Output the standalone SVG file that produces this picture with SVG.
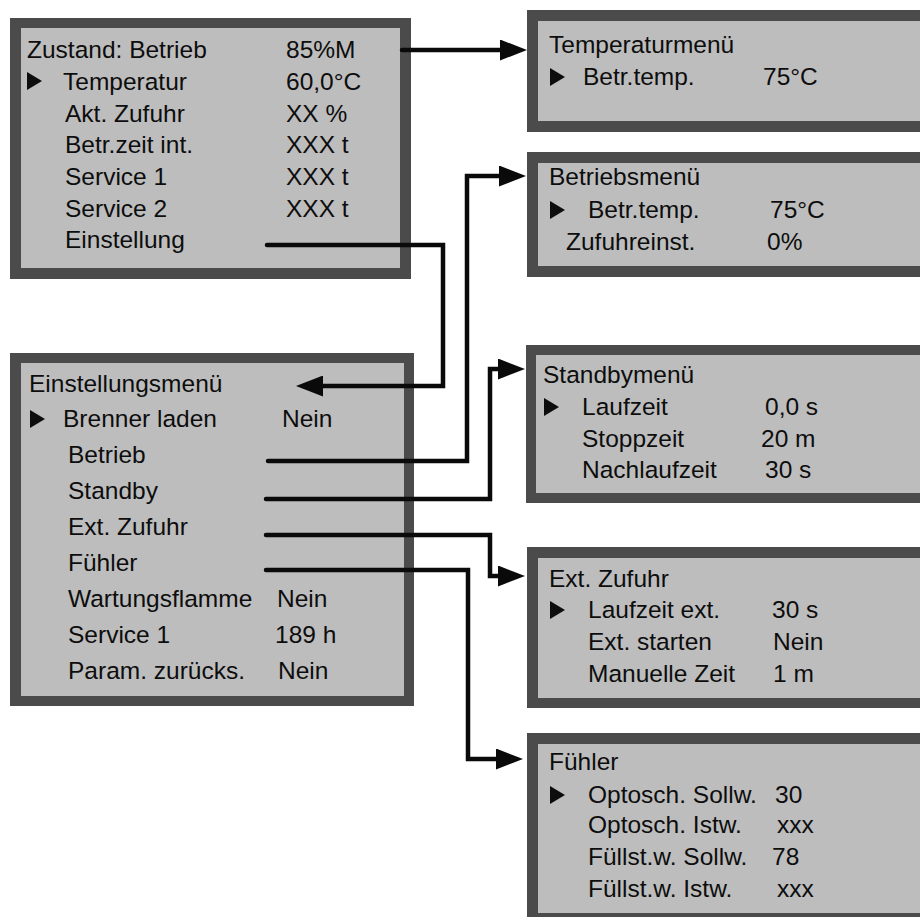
<svg xmlns="http://www.w3.org/2000/svg" width="920" height="917" viewBox="0 0 920 917">
<defs>
<style>
.frame{fill:#4b4b4b}
.panel{fill:#bdbdbd}
text{font-family:"Liberation Sans",Arial,sans-serif;font-size:24.5px;fill:#0d0d0d}
.conn{fill:none;stroke:#0a0a0a;stroke-width:4.5;stroke-linecap:round;stroke-linejoin:miter}
.cur{fill:#0d0d0d}
</style>
<marker id="ah" viewBox="0 0 27 21" refX="7" refY="10.5" markerWidth="27" markerHeight="21" markerUnits="userSpaceOnUse" orient="auto">
<polygon points="0,0 27,10.5 0,21" fill="#0a0a0a"/>
</marker>
<polygon id="tri" points="0,0 15,9 0,18" class="cur"/>
</defs>
<rect width="920" height="917" fill="#ffffff"/>

<g id="zustand">
<rect class="frame" x="10" y="18" width="401" height="261"/>
<rect class="panel" x="21" y="28" width="379" height="240"/>
<text x="27" y="58">Zustand: Betrieb</text><text x="286" y="58">85%M</text>
<use href="#tri" x="27" y="72"/>
<text x="63" y="90">Temperatur</text><text x="286" y="90">60,0°C</text>
<text x="65" y="122">Akt. Zufuhr</text><text x="286" y="122">XX %</text>
<text x="65" y="153">Betr.zeit int.</text><text x="286" y="153">XXX t</text>
<text x="65" y="185">Service 1</text><text x="286" y="185">XXX t</text>
<text x="65" y="217">Service 2</text><text x="286" y="217">XXX t</text>
<text x="65" y="248">Einstellung</text>
</g>

<g id="einstellungsmenue">
<rect class="frame" x="10" y="353" width="404" height="353"/>
<rect class="panel" x="21" y="363" width="383" height="333"/>
<text x="29" y="392">Einstellungsmenü</text>
<use href="#tri" x="30" y="410"/>
<text x="63" y="427">Brenner laden</text><text x="282" y="427">Nein</text>
<text x="68" y="463">Betrieb</text>
<text x="68" y="499">Standby</text>
<text x="68" y="535">Ext. Zufuhr</text>
<text x="68" y="571">Fühler</text>
<text x="68" y="607">Wartungsflamme</text><text x="277" y="607">Nein</text>
<text x="68" y="643">Service 1</text><text x="275" y="643">189 h</text>
<text x="68" y="679">Param. zurücks.</text><text x="278" y="679">Nein</text>
</g>

<g id="temperaturmenue">
<rect class="frame" x="527" y="10" width="403" height="122"/>
<rect class="panel" x="538" y="21" width="392" height="100"/>
<text x="549" y="53">Temperaturmenü</text>
<use href="#tri" x="550" y="68"/>
<text x="583" y="85">Betr.temp.</text><text x="763" y="85">75°C</text>
</g>

<g id="betriebsmenue">
<rect class="frame" x="527" y="152" width="403" height="125"/>
<rect class="panel" x="538" y="163" width="392" height="103"/>
<text x="549" y="185">Betriebsmenü</text>
<use href="#tri" x="550" y="201"/>
<text x="588" y="218">Betr.temp.</text><text x="770" y="218">75°C</text>
<text x="566" y="250">Zufuhreinst.</text><text x="767" y="250">0%</text>
</g>

<g id="standbymenue">
<rect class="frame" x="526" y="345" width="404" height="158"/>
<rect class="panel" x="536" y="355" width="394" height="138"/>
<text x="543" y="383">Standbymenü</text>
<use href="#tri" x="544" y="398"/>
<text x="582" y="415">Laufzeit</text><text x="765" y="415">0,0 s</text>
<text x="582" y="447">Stoppzeit</text><text x="761" y="447">20 m</text>
<text x="582" y="478">Nachlaufzeit</text><text x="765" y="478">30 s</text>
</g>

<g id="extzufuhr">
<rect class="frame" x="527" y="547" width="403" height="161"/>
<rect class="panel" x="538" y="558" width="392" height="140"/>
<text x="549" y="587">Ext. Zufuhr</text>
<use href="#tri" x="550" y="601"/>
<text x="588" y="618">Laufzeit ext.</text><text x="772" y="618">30 s</text>
<text x="588" y="650">Ext. starten</text><text x="773" y="650">Nein</text>
<text x="588" y="682">Manuelle Zeit</text><text x="773" y="682">1 m</text>
</g>

<g id="fuehler">
<rect class="frame" x="527" y="733" width="403" height="194"/>
<rect class="panel" x="538" y="744" width="392" height="169"/>
<text x="549" y="770">Fühler</text>
<use href="#tri" x="550" y="786"/>
<text x="588" y="803">Optosch. Sollw.</text><text x="775" y="803">30</text>
<text x="588" y="833">Optosch. Istw.</text><text x="777" y="833">xxx</text>
<text x="588" y="865">Füllst.w. Sollw.</text><text x="772" y="865">78</text>
<text x="588" y="897">Füllst.w. Istw.</text><text x="777" y="897">xxx</text>
</g>

<g id="connectors">
<path class="conn" d="M402,50 H507" marker-end="url(#ah)"/>
<path class="conn" d="M267,245 H443 V386 H316" marker-end="url(#ah)"/>
<path class="conn" d="M268,461 H467 V176 H506" marker-end="url(#ah)"/>
<path class="conn" d="M266,499 H490 V369 H505" marker-end="url(#ah)"/>
<path class="conn" d="M266,535 H490 V576 H505" marker-end="url(#ah)"/>
<path class="conn" d="M266,570 H468 V759 H503" marker-end="url(#ah)"/>
</g>
</svg>
